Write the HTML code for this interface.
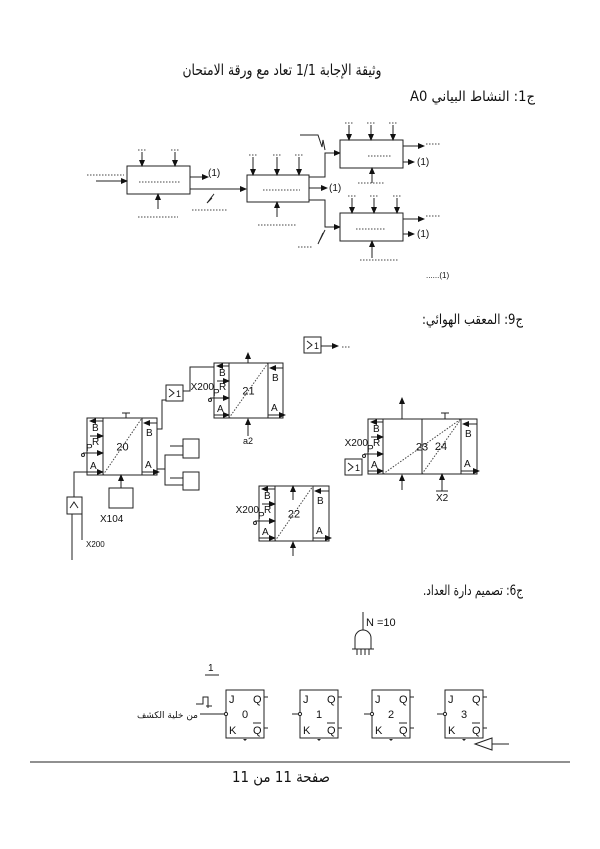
<!DOCTYPE html>
<html><head><meta charset="utf-8">
<style>
html,body{margin:0;padding:0;background:#fff;}
svg{display:block;}
text{font-family:"Liberation Sans","DejaVu Sans",sans-serif;fill:#111;}
.ar{font-family:"DejaVu Sans","Liberation Serif",serif;}
.l{stroke:#222;stroke-width:1;fill:none;}
.d{stroke:#444;stroke-width:1;stroke-dasharray:1.5 1.5;fill:none;}
</style></head>
<body>
<svg id="page" width="600" height="849" viewBox="0 0 600 849" xmlns="http://www.w3.org/2000/svg">
<defs>
<marker id="ah" markerWidth="7" markerHeight="6" refX="6" refY="3" orient="auto" markerUnits="userSpaceOnUse"><path d="M0,0 L7,3 L0,6 z" fill="#111"/></marker>
</defs>
<rect width="600" height="849" fill="#fff"/>
<text class="ar" x="282" y="75" font-size="15" text-anchor="middle" direction="rtl" textLength="199" lengthAdjust="spacingAndGlyphs">وثيقة الإجابة 1/1 تعاد مع ورقة الامتحان</text>
<text class="ar" x="535" y="101" font-size="14" text-anchor="start" direction="rtl" textLength="125" lengthAdjust="spacingAndGlyphs">ج1: النشاط البياني A0</text>

<g id="a0"></g>

<text class="ar" x="523" y="324" font-size="14" text-anchor="start" direction="rtl" textLength="101" lengthAdjust="spacingAndGlyphs">ج9: المعقب الهوائي:</text>
<g id="pn"></g>

<text class="ar" x="523" y="595" font-size="14" text-anchor="start" direction="rtl" textLength="100" lengthAdjust="spacingAndGlyphs">ج6: تصميم دارة العداد.</text>
<g id="ct"></g>

<line x1="30" y1="762" x2="570" y2="762" stroke="#222" stroke-width="1"/>
<text class="ar" x="281" y="782" font-size="15" text-anchor="middle" direction="rtl" textLength="98" lengthAdjust="spacingAndGlyphs">صفحة 11 من 11</text>
</svg>
<script>
const NS="http://www.w3.org/2000/svg";
function mk(parent,tag,attrs){const e=document.createElementNS(NS,tag);for(const k in attrs)e.setAttribute(k,attrs[k]);parent.appendChild(e);return e;}
function ln(p,x1,y1,x2,y2,arrow,cls){const e=mk(p,'line',{x1,y1,x2,y2,class:cls||'l'});if(arrow)e.setAttribute('marker-end','url(#ah)');return e;}
function pl(p,pts,arrow){const e=mk(p,'polyline',{points:pts,class:'l'});if(arrow)e.setAttribute('marker-end','url(#ah)');return e;}
function tx(p,x,y,s,size,anchor){const e=mk(p,'text',{x,y,'font-size':size||10,'text-anchor':anchor||'start'});e.textContent=s;return e;}
function dots(p,x1,x2,y){return ln(p,x1,y,x2,y,false,'d');}

/* ---------- A0 ---------- */
const a0=document.getElementById('a0');
function box(p,x,y,w,h){return mk(p,'rect',{x,y,width:w,height:h,fill:'#fff',stroke:'#222','stroke-width':1});}
let b;
b=box(a0,127,166,63,28);


dots(a0,139,180,182);
ln(a0,96,181,127,181,true);dots(a0,87,124,175);
ln(a0,142,152,142,166,true);ln(a0,175,152,175,166,true);dots(a0,138,146,150);dots(a0,171,180,150);
ln(a0,158,209,158,194,true);dots(a0,138,178,217);
ln(a0,190,177,208,177,true);tx(a0,208,176,'(1)',10);
ln(a0,190,189,246,189,true);
pl(a0,'210,199 214,194 207,203 212,198');dots(a0,192,227,210);

b=box(a0,247,175,62,27);


dots(a0,263,300,190);
[253,277,299].forEach(x=>{ln(a0,x,157,x,175,true);dots(a0,x-4,x+4,155);});
ln(a0,277,217,277,202,true);dots(a0,258,297,225);
ln(a0,309,188,327,188,true);tx(a0,329,191,'(1)',10);
pl(a0,'309,177 325,177 325,153 340,153',true);
pl(a0,'309,200 325,200 325,227 340,227',true);
pl(a0,'300,135 318,135 322,147 323,140 325,150');
pl(a0,'325,230 320,240 323,233 318,244');dots(a0,298,312,247);

b=box(a0,340,140,63,28);


dots(a0,368,392,156);
[349,371,393].forEach(x=>{ln(a0,x,125,x,140,true);dots(a0,x-4,x+4,123);});
ln(a0,403,146,424,146,true);dots(a0,426,440,144);
ln(a0,403,162,414,162,true);tx(a0,417,165,'(1)',10);
ln(a0,372,183,372,168,true);dots(a0,358,384,183);

b=box(a0,340,213,63,28);


dots(a0,356,386,229);
[352,374,397].forEach(x=>{ln(a0,x,198,x,213,true);dots(a0,x-4,x+4,196);});
ln(a0,403,219,424,219,true);dots(a0,426,440,216);
ln(a0,403,234,414,234,true);tx(a0,417,237,'(1)',10);
ln(a0,372,258,372,241,true);dots(a0,360,398,260);
tx(a0,426,278,'......(1)',8);

/* ---------- Pneumatic ---------- */
const pn=document.getElementById('pn');
function module(x,y,w,h,lw,rw,label,name){
 const g=mk(pn,'g',{});
 
 
 mk(g,'rect',{x,y,width:w,height:h,fill:'#fff',stroke:'#222'});
 ln(g,x+lw,y,x+lw,y+h);ln(g,x+w-rw,y,x+w-rw,y+h);
 ln(g,x+lw,y+h,x+w-rw,y,false,'d');
 tx(g,x+lw+(w-lw-rw)/2,y+h/2+4,label,11,'middle');
 ln(g,x+lw,y+3,x+3,y+3,true);tx(g,x+5,y+13,'B',10);
 ln(g,x+3,y+18,x+lw,y+18,true);tx(g,x+5,y+27,'R',10);
 ln(g,x-4,y+35,x+lw,y+35,true);tx(g,x-1,y+33,'P',10);mk(g,'circle',{cx:x-4,cy:y+37,r:1.5,fill:'none',stroke:'#222'});
 ln(g,x,y+h-3,x+lw,y+h-3,true);tx(g,x+3,y+h-6,'A',10);
 ln(g,x+w,y+5,x+w-rw+2,y+5,true);tx(g,x+w-rw+4,y+18,'B',10);
 ln(g,x+w-rw,y+h-3,x+w+2,y+h-3,true);tx(g,x+w-rw+3,y+h-7,'A',10);
 return g;
}
function orbox(x,y,name){
 const g=mk(pn,'g',{});
 
 
 mk(g,'rect',{x,y,width:17,height:16,fill:'#fff',stroke:'#222'});
 pl(g,`${x+3},${y+4} ${x+8},${y+8} ${x+3},${y+12}`);
 tx(g,x+10,y+12,'1',9);
 return g;
}
module(87,418,70,57,16,15,'20','module-20');
module(214,363,69,55,15,15,'21','module-21');
module(259,486,70,55,16,16,'22','module-22');
tx(pn,259,513,'X200',10,'end');tx(pn,214,390,'X200',10,'end');
const m23=module(368,419,109,55,15,16,'23','module-23-24');
ln(m23,422,419,422,474);ln(m23,422,474,461,419,false,'d');tx(m23,441,450,'24',11,'middle');
tx(pn,368,446,'X200',10,'end');
ln(pn,248,436,248,419,true);tx(pn,243,444,'a2',9);
ln(pn,248,363,248,353,true);
ln(pn,293,500,293,486,true);ln(pn,293,556,293,542,true);
ln(pn,402,419,402,398,true);ln(pn,402,490,402,475,true);
ln(pn,442,491,442,474,true);tx(pn,436,501,'X2',10);ln(pn,436,491,448,491);
ln(pn,445,419,445,413);ln(pn,441,413,449,413);
ln(pn,126,418,126,413);ln(pn,122,413,130,413);
orbox(304,337,'or-gate-top');ln(pn,321,346,338,346,true);dots(pn,342,350,347);
orbox(166,385,'or-gate-middle');
pl(pn,'157,429 162,429 162,400 166,400');pl(pn,'183,391 190,391 190,367 214,367');
orbox(345,459,'or-gate-right');
const s1=mk(pn,'rect',{x:183,y:439,width:16,height:19,fill:'#fff',stroke:'#222'});


const s2=mk(pn,'rect',{x:183,y:472,width:16,height:18,fill:'#fff',stroke:'#222'});


pl(pn,'157,469 165,469 165,455 183,455');pl(pn,'165,469 165,485 183,485');
ln(pn,170,446,183,446);ln(pn,170,478,183,478);
const xb=mk(pn,'rect',{x:109,y:488,width:24,height:20,fill:'#fff',stroke:'#222'});


ln(pn,121,488,121,475,true);tx(pn,100,522,'X104',10);
const cb=mk(pn,'rect',{x:67,y:497,width:15,height:17,fill:'#fff',stroke:'#222'});


pl(pn,'70,508 74,502 78,508');
pl(pn,'74,497 74,472 87,472');ln(pn,72,514,72,560);ln(pn,82,514,82,540);
tx(pn,86,547,'X200',8);

/* ---------- Counter ---------- */
const ct=document.getElementById('ct');
const ag=mk(ct,'g',{});


ln(ag,363,612,363,630);
mk(ag,'path',{d:'M355,649 L355,638 A8,8 0 0 1 371,638 L371,649 Z',fill:'#fff',stroke:'#222'});
ln(ag,352,649,374,649);[357,361,365,369].forEach(x=>ln(ag,x,649,x,655));
tx(ct,366,626,'N =10',11);
tx(ct,208,671,'1',10);ln(ct,205,675,219,675);
const ffx=[226,300,372,445];
const fflabels=['0','1','2','3'];
ffx.forEach((x,i)=>{
 const g=mk(ct,'g',{});
 
 
 mk(g,'rect',{x,y:690,width:38,height:48,fill:'#fff',stroke:'#222'});
 tx(g,x+3,703,'J',11);tx(g,x+3,734,'K',11);
 tx(g,x+27,703,'Q',11);tx(g,x+27,734,'Q',11);ln(g,x+27,723,x+35,723);
 ln(g,x+38,697,x+42,697);ln(g,x+38,728,x+42,728);
 tx(g,x+19,718,fflabels[i],11,'middle');
 mk(g,'circle',{cx:x,cy:714,r:1.6,fill:'#fff',stroke:'#222'});
 ln(g,x-8,714,x-2,714);
 mk(g,'path',{d:`M${x+17},739 l2,2 l2,-2 z`,fill:'#222'});
});
ln(ct,200,714,224,714);
pl(ct,'196,704 203,704 203,697 208,697 208,708');
ln(ct,206,706,212,706);
const lb=tx(ct,198,718,'من خلية الكشف',9,'start');
lb.setAttribute('class','ar');
lb.setAttribute('direction','rtl');
const bf=mk(ct,'g',{});


mk(bf,'path',{d:'M475,744 L492,738 L492,750 Z',fill:'#fff',stroke:'#222'});
ln(bf,492,744,509,744);
</script>
</body></html>
